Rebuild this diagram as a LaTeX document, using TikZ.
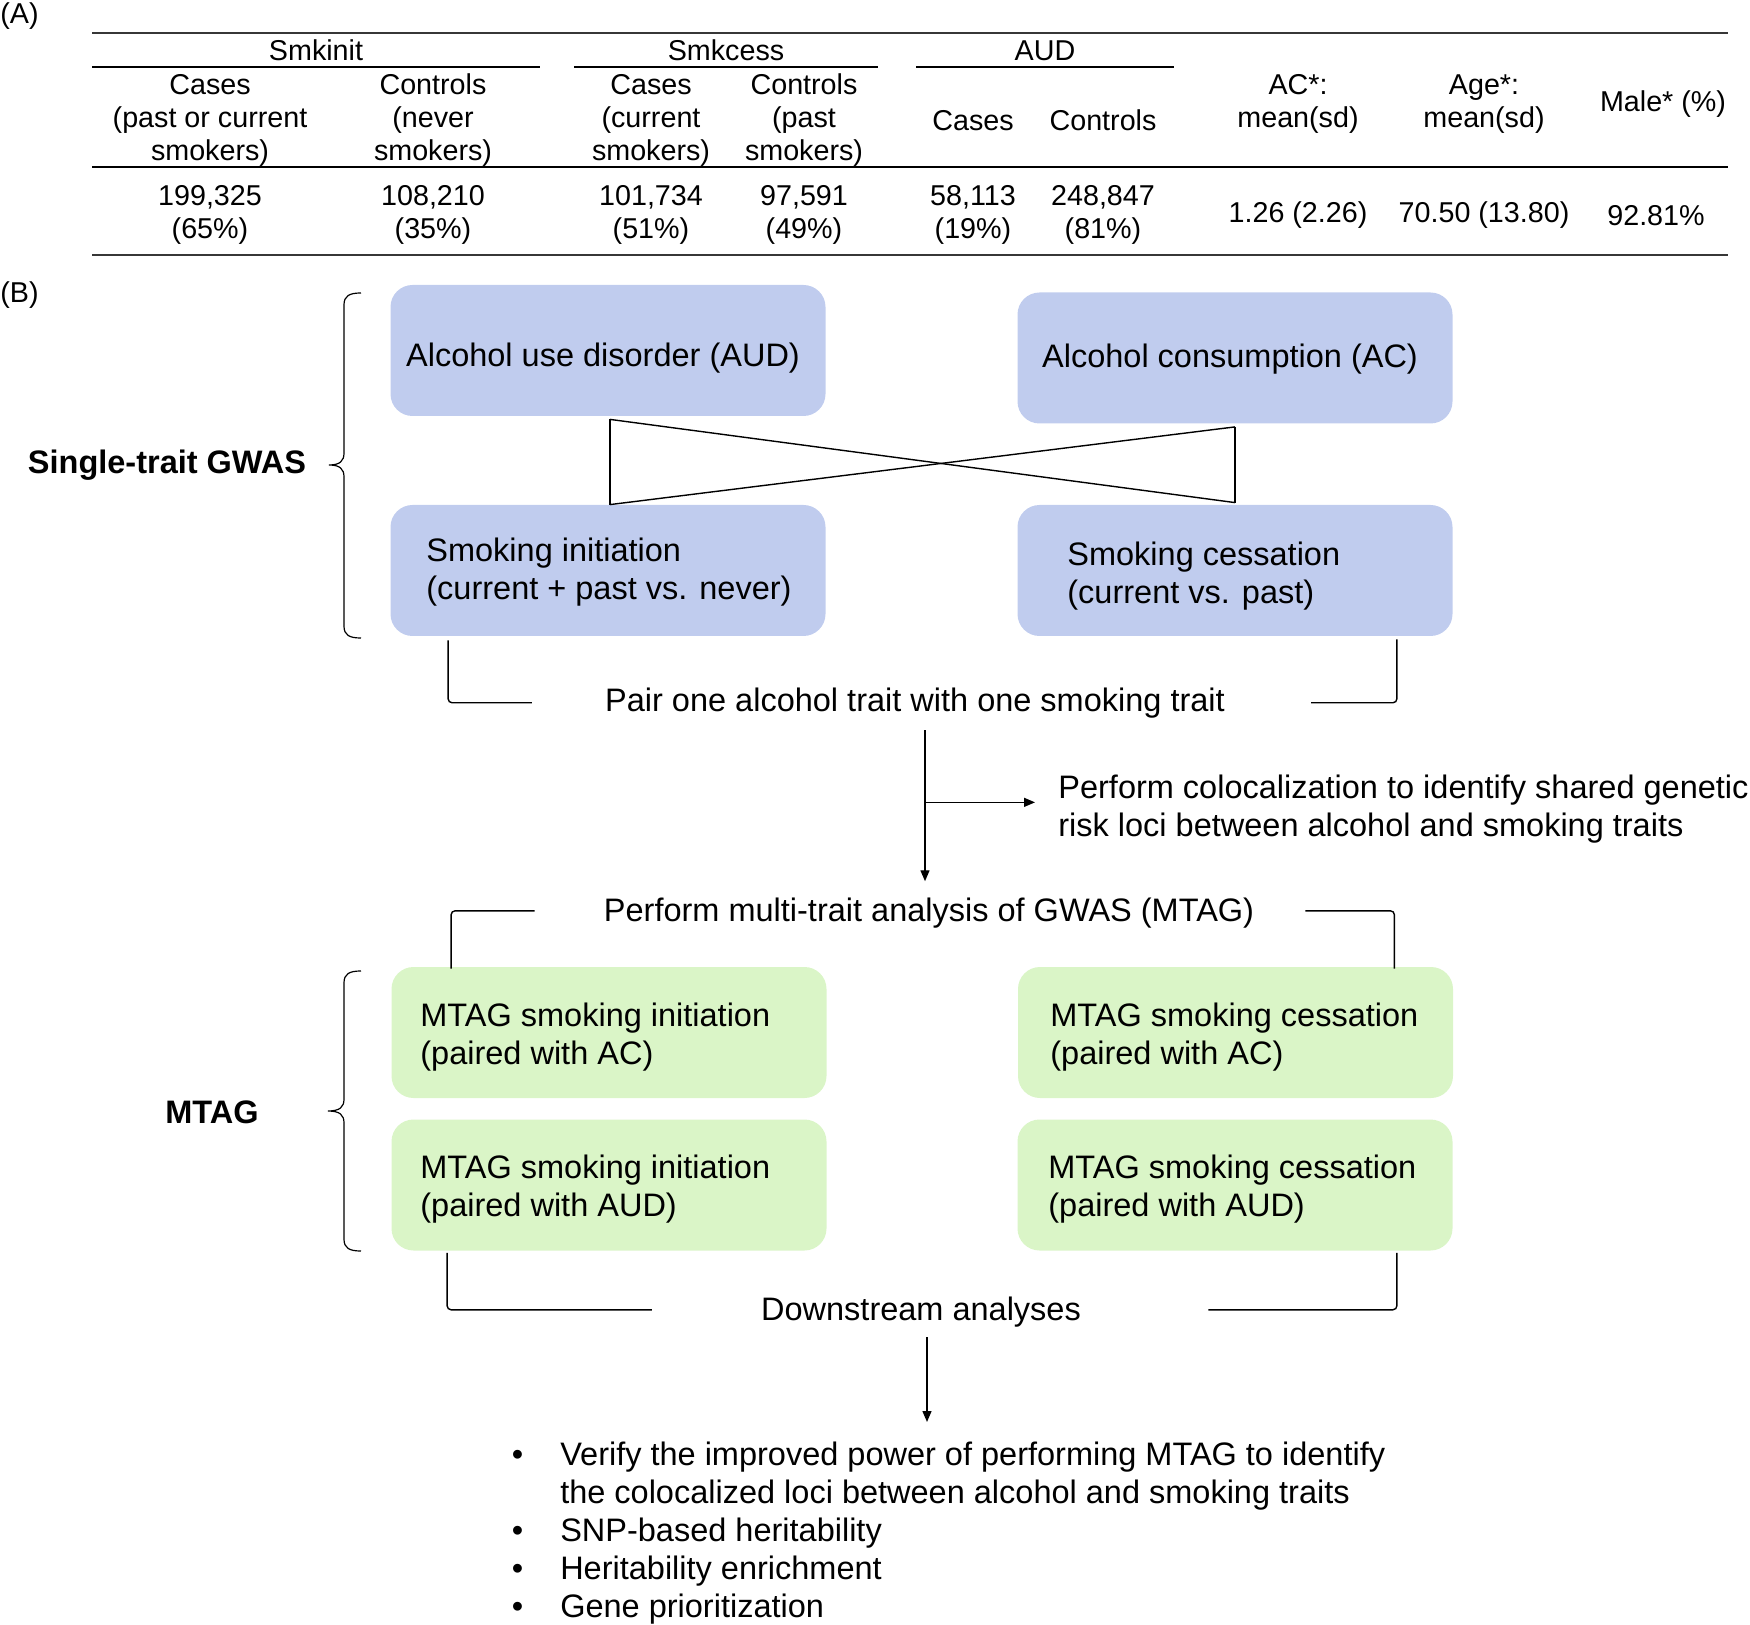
\documentclass[tikz,border=0pt]{standalone}
\usepackage{fontspec}
\setmainfont{Liberation Sans}
\usetikzlibrary{arrows.meta}
\definecolor{boxblue}{RGB}{192,204,238}
\definecolor{boxgreen}{RGB}{218,245,199}
\definecolor{rulegray}{RGB}{55,55,55}
\begin{document}
\begin{tikzpicture}[x=0.5pt,y=-0.5pt,
  tabtxt/.style={font=\fontsize{14.35}{16.5}\selectfont, align=center, inner sep=0pt, yshift=-1.2pt},
  basetxt/.style={font=\fontsize{16.25}{19}\selectfont, inner sep=0pt, align=left},
  maintxt/.style={basetxt, yshift=-1.4pt},
  boldtxt/.style={font=\fontsize{16.25}{19}\selectfont\bfseries, inner sep=0pt, yshift=-1.2pt},
  bluebox/.style={fill=boxblue, rounded corners=11pt, minimum width=217.5pt, minimum height=65.5pt, inner sep=0pt},
  greenbox/.style={fill=boxgreen, rounded corners=11pt, minimum width=217.5pt, minimum height=65.5pt, inner sep=0pt},
  ln/.style={line width=0.7pt},
  thinln/.style={line width=0.55pt},
  arr/.style={line width=0.7pt, -{Triangle[length=5.5pt,width=4.5pt]}},
  brc/.style={line width=0.6pt},
  rulethick/.style={line width=1pt, draw=rulegray},
  rulethin/.style={line width=0.6pt}]
\useasboundingbox (0,0) rectangle (1750,1625);

% ---------- (A) table ----------
\node[tabtxt, anchor=west] (lblA) at (0,14) {(A)};
\draw[rulethick] (92,33) -- (1728,33);
\node[tabtxt] (hsi) at (316,48) {Smkinit};
\node[tabtxt] (hsc) at (726,48) {Smkcess};
\node[tabtxt] (haud) at (1045,48) {AUD};
\draw[rulethin] (92,67) -- (540,67);
\draw[rulethin] (574,67) -- (878,67);
\draw[rulethin] (916,67) -- (1174,67);

\node[tabtxt] (c1) at (210,118) {Cases\\(past or current\\smokers)};
\node[tabtxt] (c2) at (433,118) {Controls\\(never\\smokers)};
\node[tabtxt] (c3) at (651,118) {Cases\\(current\\smokers)};
\node[tabtxt] (c4) at (804,118) {Controls\\(past\\smokers)};
\node[tabtxt] (c5) at (973,118) {Cases};
\node[tabtxt] (c6) at (1103,118) {Controls};
\node[tabtxt] (c7) at (1298,102) {AC*:\\mean(sd)};
\node[tabtxt] (c8) at (1484,102) {Age*:\\mean(sd)};
\node[tabtxt] (c9) at (1663,102) {Male* (\%)};
\draw[rulethin] (92,167) -- (1728,167);

\node[tabtxt] (v1) at (210,213) {199,325\\(65\%)};
\node[tabtxt] (v2) at (433,213) {108,210\\(35\%)};
\node[tabtxt] (v3) at (651,213) {101,734\\(51\%)};
\node[tabtxt] (v4) at (804,213) {97,591\\(49\%)};
\node[tabtxt] (v5) at (973,213) {58,113\\(19\%)};
\node[tabtxt] (v6) at (1103,213) {248,847\\(81\%)};
\node[tabtxt] (v7) at (1298,213) {1.26 (2.26)};
\node[tabtxt] (v8) at (1484,213) {70.50 (13.80)};
\node[tabtxt] (v9) at (1656,213) {92.81\%};
\draw[rulethick] (92,255) -- (1728,255);

% ---------- (B) flow ----------
\node[tabtxt, anchor=west] (lblB) at (0,293) {(B)};

% single-trait boxes
\node[bluebox] (aud) at (608,350.5) {};
\node[bluebox] (ac) at (1235,358) {};
\node[bluebox] (si) at (608,570.5) {};
\node[bluebox] (sc) at (1235,570.5) {};
\node[maintxt] (audt) at (603,355) {Alcohol use disorder (AUD)};
\node[maintxt] (act) at (1230,356) {Alcohol consumption (AC)};
\node[maintxt, anchor=west] (sit) at (426,569) {Smoking initiation\\(current + past vs. never)};
\node[maintxt, anchor=west] (sct) at (1067,573.5) {Smoking cessation\\(current vs. past)};

% cross connectors
\draw[thinln] ([xshift=1pt,yshift=-1.5pt]aud.south) -- ([xshift=1pt]si.north);
\draw[thinln] ([yshift=-1.5pt]ac.south) -- ([yshift=1pt]sc.north);
\draw[ln] ([xshift=1pt,yshift=-1.5pt]aud.south) -- ([yshift=1pt]sc.north);
\draw[ln] ([xshift=1pt]si.north) -- ([yshift=-1.5pt]ac.south);

% brace single-trait
\draw[brc] (361,293) .. controls (349,293) and (344,296) .. (344,305) -- (344,453)
  .. controls (344,461) and (340,465) .. (329,465)
  .. controls (340,465) and (344,469) .. (344,477) -- (344,626)
  .. controls (344,635) and (349,638) .. (361,638);
\node[boldtxt] (gwas) at (167,463) {Single-trait GWAS};

% pair text and brackets
\node[maintxt] (pair) at (915,700) {Pair one alcohol trait with one smoking trait};
\draw[ln, rounded corners=2pt] ([xshift=29pt,yshift=-2pt]si.south west) |- ([xshift=-36.5pt]pair.west);
\draw[ln, rounded corners=2pt] ([xshift=-28pt,yshift=-1.5pt]sc.south east) |- ([xshift=43pt]pair.east);

% arrow to MTAG and branch to colocalization
\node[maintxt] (mtag) at (929,910) {Perform multi-trait analysis of GWAS (MTAG)};
\node[maintxt, anchor=west] (coloc) at (1058,806) {Perform colocalization to identify shared genetic\\risk loci between alcohol and smoking traits};
\coordinate (pstart) at ([xshift=5pt,yshift=-6pt]pair.south);
\coordinate (branch) at ([yshift=-36pt]pstart);
\draw[arr, shorten >=8pt] (pstart) -- (pstart |- mtag.north);
\draw[arr, shorten >=11.5pt] (branch) -- (branch -| coloc.west);

% MTAG boxes
\node[greenbox] (m1) at (609,1032.5) {};
\node[greenbox] (m2) at (1235.5,1032.5) {};
\node[greenbox] (m3) at (609,1185) {};
\node[greenbox] (m4) at (1235,1185) {};
\node[maintxt, anchor=west] (m1t) at (420,1034) {MTAG smoking initiation\\(paired with AC)};
\node[maintxt, anchor=west] (m2t) at (1050,1034) {MTAG smoking cessation\\(paired with AC)};
\node[maintxt, anchor=west] (m3t) at (420,1186) {MTAG smoking initiation\\(paired with AUD)};
\node[maintxt, anchor=west] (m4t) at (1048,1186) {MTAG smoking cessation\\(paired with AUD)};

\draw[ln, rounded corners=2pt] ([xshift=-34.5pt,yshift=1pt]mtag.west) -| ([xshift=30pt,yshift=-1pt]m1.north west);
\draw[ln, rounded corners=2pt] ([xshift=25.5pt,yshift=1pt]mtag.east) -| ([xshift=-29.5pt,yshift=-1pt]m2.north east);

% brace MTAG
\draw[brc] (361,971) .. controls (349,971) and (344,974) .. (344,983) -- (344,1099)
  .. controls (344,1107) and (340,1111) .. (328,1111)
  .. controls (340,1111) and (344,1115) .. (344,1123) -- (344,1239)
  .. controls (344,1248) and (349,1251) .. (361,1251);
\node[boldtxt] (mtaglbl) at (212,1110) {MTAG};

% downstream
\node[maintxt] (ds) at (921,1309) {Downstream analyses};
\draw[ln, rounded corners=2pt] ([xshift=28pt,yshift=-1pt]m3.south west) |- ([xshift=-54.5pt,yshift=1pt]ds.west);
\draw[ln, rounded corners=2pt] ([xshift=-28pt,yshift=-1pt]m4.south east) |- ([xshift=63.5pt,yshift=1pt]ds.east);

\node[basetxt, anchor=north west] (bl) at (511.5,1438) {%
  \begin{tabular}{@{}l@{\hspace{18.5pt}}l@{}}
  \textbullet & Verify the improved power of performing MTAG to identify\\
   & the colocalized loci between alcohol and smoking traits\\
  \textbullet & SNP-based heritability\\
  \textbullet & Heritability enrichment\\
  \textbullet & Gene prioritization
  \end{tabular}};
\coordinate (dstart) at ([xshift=3pt,yshift=-5pt]ds.south);
\draw[arr, shorten >=8pt] (dstart) -- (dstart |- bl.north);
\end{tikzpicture}
\end{document}
